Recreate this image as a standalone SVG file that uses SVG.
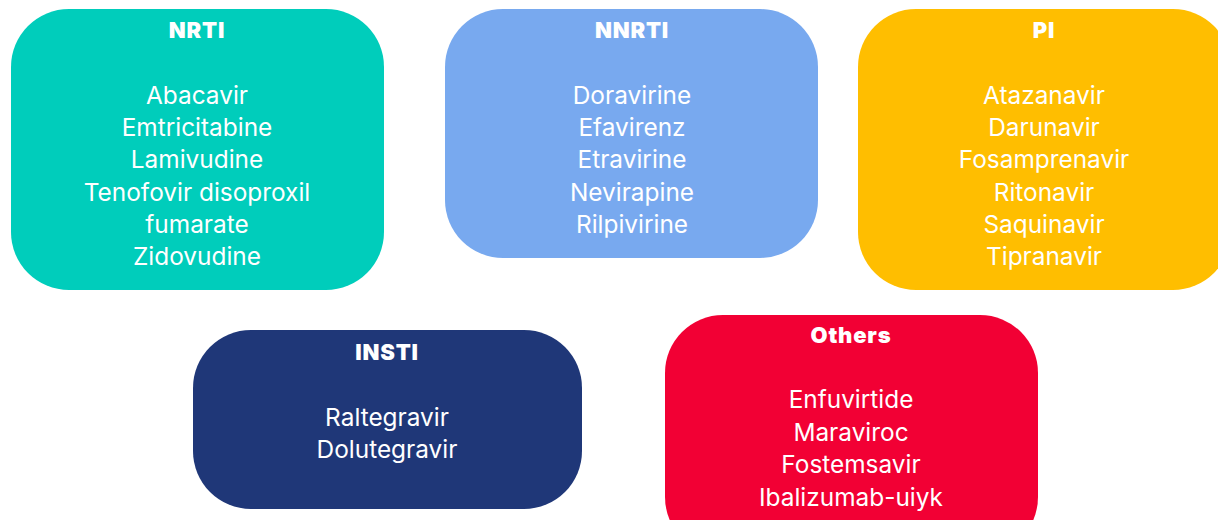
<svg xmlns="http://www.w3.org/2000/svg" width="1218" height="520" viewBox="0 0 1218 520">
<style>
.box{stroke:none}
.t{font-family:Inter,"Liberation Sans",sans-serif;font-weight:900;font-size:22px;fill:#fff;text-anchor:middle;letter-spacing:0.8px}
.b{font-family:Inter,"Liberation Sans",sans-serif;font-weight:400;font-size:24.4px;fill:#fff;text-anchor:middle}
</style>
<rect width="1218" height="520" fill="#fff"/>
<g id="nrti">
<rect class="box" x="11" y="9" width="373" height="281" rx="58" fill="#00CDBB"/>
<text class="t" x="197" y="38">NRTI</text>
<text class="b" x="197" y="104">Abacavir</text>
<text class="b" x="197" y="136">Emtricitabine</text>
<text class="b" x="197" y="168">Lamivudine</text>
<text class="b" x="197" y="201">Tenofovir disoproxil</text>
<text class="b" x="197" y="233">fumarate</text>
<text class="b" x="197" y="265">Zidovudine</text>
</g>
<g id="nnrti">
<rect class="box" x="445" y="9" width="373" height="249" rx="58" fill="#78A9EF"/>
<text class="t" x="632" y="38">NNRTI</text>
<text class="b" x="632" y="104">Doravirine</text>
<text class="b" x="632" y="136">Efavirenz</text>
<text class="b" x="632" y="168">Etravirine</text>
<text class="b" x="632" y="201">Nevirapine</text>
<text class="b" x="632" y="233">Rilpivirine</text>
</g>
<g id="pi">
<rect class="box" x="858" y="9" width="373" height="281" rx="58" fill="#FFBE00"/>
<text class="t" x="1044" y="38">PI</text>
<text class="b" x="1044" y="104">Atazanavir</text>
<text class="b" x="1044" y="136">Darunavir</text>
<text class="b" x="1044" y="168">Fosamprenavir</text>
<text class="b" x="1044" y="201">Ritonavir</text>
<text class="b" x="1044" y="233">Saquinavir</text>
<text class="b" x="1044" y="265">Tipranavir</text>
</g>
<g id="insti">
<rect class="box" x="193" y="330" width="389" height="179" rx="58" fill="#1F3778"/>
<text class="t" x="387" y="360">INSTI</text>
<text class="b" x="387" y="426">Raltegravir</text>
<text class="b" x="387" y="458">Dolutegravir</text>
</g>
<g id="others">
<rect class="box" x="665" y="315" width="373" height="240" rx="58" fill="#F20034"/>
<text class="t" x="851" y="343">Others</text>
<text class="b" x="851" y="408">Enfuvirtide</text>
<text class="b" x="851" y="441">Maraviroc</text>
<text class="b" x="851" y="473">Fostemsavir</text>
<text class="b" x="851" y="506">Ibalizumab-uiyk</text>
</g>
<g id="connectors"/>
</svg>
